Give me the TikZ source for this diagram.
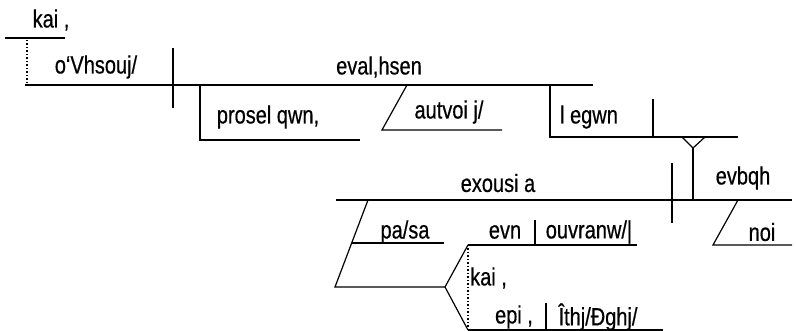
\documentclass[tikz,border=0pt]{standalone}
\usepackage{fontspec}
\setmainfont[FakeStretch=0.8, FakeBold=0.5]{Liberation Sans}
\usetikzlibrary{positioning}
\tikzset{
  rule/.style={line width=1.2pt},
  linkrule/.style={line width=1.5pt, dotted},
  word/.style={font=\fontsize{25}{27}\selectfont, inner sep=0pt}
}

\begin{document}
\begin{tikzpicture}[x=1pt, y=-1pt]
  \useasboundingbox (0,0) rectangle (796,331);
  % main clause
  \coordinate (cjL) at (5,38);   \coordinate (cjR) at (65,38);
  \coordinate (cjT) at (27,40);  \coordinate (cjB) at (27,85);
  \coordinate (mL) at (25,85);   \coordinate (mR) at (593,85);
  \coordinate (svT) at (173,48); \coordinate (svB) at (173,108);
  \node[word] (kai) at (51,20) {kai ,};
  \node[word] (subj) at (96,67) {o{`}Vhsouj/};
  \node[word] (verb) at (379,67) {eval,hsen};
  \draw[rule] (cjL) -- (cjR);
  \draw[linkrule] (cjT) -- (cjB);
  \draw[rule] (mL) -- (mR);
  \draw[rule] (svT) -- (svB);
  % participle and indirect object
  \coordinate (ptT) at (200,85); \coordinate (ptB) at (200,140); \coordinate (ptR) at (360,140);
  \node[word] (prosel) at (268,117) {prosel qwn,};
  \draw[rule] (ptT) -- (ptB) -- (ptR);
  \coordinate (ioT) at (407,85); \coordinate (ioB) at (382,130); \coordinate (ioR) at (502,130);
  \node[word] (autoi) at (449,112) {autvoi j/};
  \draw[rule] (ioT) -- (ioB) -- (ioR);
  \coordinate (lgT) at (550,85); \coordinate (lgB) at (550,137); \coordinate (lgR) at (738,137);
  \coordinate (doT) at (653,99); \coordinate (doB) at (653,137);
  \node[word] (legwn) at (589,117) {l egwn};
  \draw[rule] (lgT) -- (lgB) -- (lgR);
  \draw[rule] (doT) -- (doB);
  % pedestal
  \coordinate (pdL) at (682,137); \coordinate (pdM) at (693,148);
  \coordinate (pdR) at (705,137); \coordinate (pdB) at (693,200);
  \draw[rule] (pdL) -- (pdM) -- (pdR);
  \draw[rule] (pdM) -- (pdB);
  % quoted clause
  \coordinate (qL) at (336,200); \coordinate (qR) at (792,200);
  \coordinate (qvT) at (672,163); \coordinate (qvB) at (672,223);
  \node[word] (exous) at (498,183) {exousi a};
  \node[word] (edoqh) at (743,178) {evbqh};
  \draw[rule] (qL) -- (qR);
  \draw[rule] (qvT) -- (qvB);
  \coordinate (moT) at (738,200); \coordinate (moB) at (713,245); \coordinate (moR) at (792,245);
  \node[word] (moi) at (762,232) {noi};
  \draw[rule] (moT) -- (moB) -- (moR);
  % modifiers of the subject
  \coordinate (psT) at (368,200); \coordinate (psM) at (352,243);
  \coordinate (psR) at (444,243); \coordinate (psB) at (335,287);
  \coordinate (fkL) at (445,287);
  \node[word] (pasa) at (405,232) {pa/sa};
  \draw[rule] (psT) -- (psB) -- (fkL);
  \draw[rule] (psM) -- (psR);
  \coordinate (ppT) at (468,245); \coordinate (ppTR) at (637,245);
  \coordinate (ppB) at (468,330); \coordinate (ppBR) at (663,330);
  \coordinate (d1T) at (535,220); \coordinate (d1B) at (535,245);
  \coordinate (d2T) at (546,303); \coordinate (d2B) at (546,330);
  \node[word] (en) at (505,232) {evn};
  \node[word] (ouranw) at (589,232) {ouvranw/|};
  \node[word, anchor=west] (kai2) at (470,278) {kai ,};
  \node[word] (epi) at (514,317) {epi ,};
  \node[word] (ghs) at (598,317) {Îthj/Ðghj/};
  \draw[rule] (ppT) -- (fkL) -- (ppB);
  \draw[rule] (ppT) -- (ppTR);
  \draw[rule] (ppB) -- (ppBR);
  \draw[linkrule] (ppT) -- (ppB);
  \draw[rule] (d1T) -- (d1B);
  \draw[rule] (d2T) -- (d2B);
\end{tikzpicture}
\end{document}
